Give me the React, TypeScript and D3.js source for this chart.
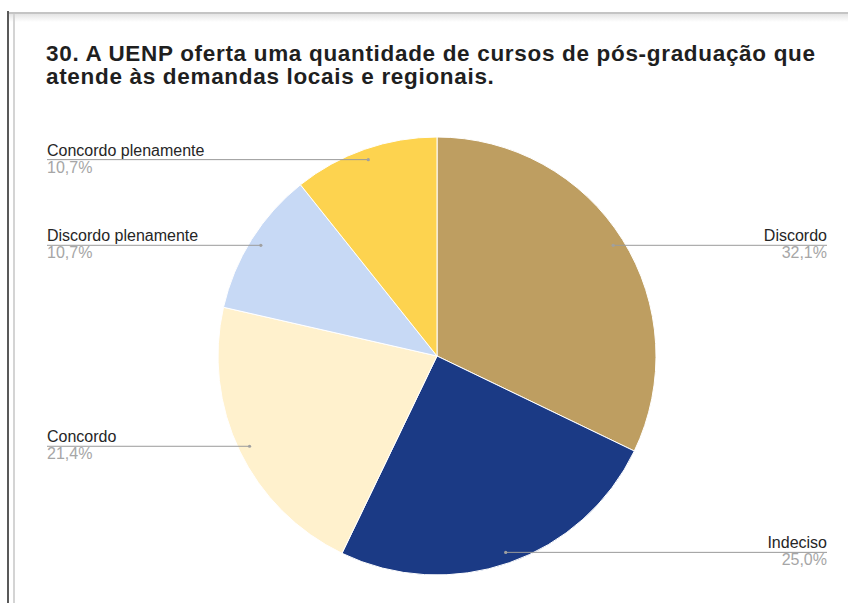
import React, { useEffect, useRef } from 'react';
import * as d3 from 'd3';

// respostas (28 no total)
const categories = ['Discordo', 'Indeciso', 'Concordo', 'Discordo plenamente', 'Concordo plenamente'];
const counts = [9, 7, 6, 3, 3];
const percentLabels = ['32,1%', '25,0%', '21,4%', '10,7%', '10,7%'];
const colors = ['#BE9E61', '#1B3A85', '#FFF1CD', '#C7D9F5', '#FDD34F'];
const titleLines = [
  '30. A UENP oferta uma quantidade de cursos de pós-graduação que',
  'atende às demandas locais e regionais.'
];

const W = 848;
const H = 603;

export default function App() {
  const svgRef = useRef<SVGSVGElement>(null);

  useEffect(() => {
    if (!svgRef.current) return;
    const svg = d3.select(svgRef.current);
    svg.selectAll('*').remove();

    // frame
    const defs = svg.append('defs');
    const grad = defs.append('linearGradient').attr('id', 'shadow')
      .attr('x1', 0).attr('y1', 0).attr('x2', 0).attr('y2', 1);
    grad.append('stop').attr('offset', '0%').attr('stop-color', '#e4e4e4');
    grad.append('stop').attr('offset', '100%').attr('stop-color', '#ffffff');

    svg.append('rect').attr('x', 9).attr('y', 14).attr('width', W - 9).attr('height', 8)
      .attr('fill', 'url(#shadow)');
    svg.append('line').attr('x1', 9).attr('x2', W).attr('y1', 13).attr('y2', 13)
      .attr('stroke', '#c4c4c4').attr('stroke-width', 2);
    svg.append('line').attr('x1', 8).attr('x2', 8).attr('y1', 11).attr('y2', H)
      .attr('stroke', '#222').attr('stroke-width', 1.5);
    svg.append('line').attr('x1', 14).attr('x2', 14).attr('y1', 14).attr('y2', H)
      .attr('stroke', '#d4d4d4').attr('stroke-width', 2);

    // title
    svg.append('g').selectAll('text')
      .data(titleLines)
      .enter()
      .append('text')
      .attr('x', 46)
      .attr('y', (d, i) => 61 + i * 23)
      .style('font-family', 'Arial, "Liberation Sans", sans-serif')
      .style('font-size', '22.5px')
      .style('font-weight', 'bold')
      .style('letter-spacing', '0.68px')
      .style('fill', '#1f1f1f')
      .text(d => d);

    // pie
    const cx = 437;
    const cy = 356;
    const r = 219;
    const pie = d3.pie<number>().sort(null).value(d => d);
    const arcs = pie(counts);
    const arc = d3.arc<d3.PieArcDatum<number>>().innerRadius(0).outerRadius(r);

    const g = svg.append('g').attr('transform', `translate(${cx},${cy})`);
    g.selectAll('path')
      .data(arcs)
      .enter()
      .append('path')
      .attr('d', arc)
      .attr('fill', (d, i) => colors[i])
      .attr('stroke', '#ffffff')
      .attr('stroke-width', 1);

    // labels with leader lines
    const anchorR = r * 0.95;
    const leftX = 47;
    const rightX = 827;
    arcs.forEach((a, i) => {
      const mid = (a.startAngle + a.endAngle) / 2;
      const ax = cx + anchorR * Math.sin(mid);
      const ay = cy - anchorR * Math.cos(mid);
      const right = ax > cx;
      const tx = right ? rightX : leftX;
      svg.append('line')
        .attr('x1', ax).attr('x2', tx).attr('y1', ay).attr('y2', ay)
        .attr('stroke', '#9a9a9a').attr('stroke-width', 1);
      svg.append('circle').attr('cx', ax).attr('cy', ay).attr('r', 1.6)
        .attr('fill', '#a0a0a0');
      svg.append('text')
        .attr('x', tx).attr('y', ay - 4)
        .attr('text-anchor', right ? 'end' : 'start')
        .style('font-family', 'Arial, "Liberation Sans", sans-serif')
        .style('font-size', '16px')
        .style('fill', '#262626')
        .text(categories[i]);
      svg.append('text')
        .attr('x', tx).attr('y', ay + 13)
        .attr('text-anchor', right ? 'end' : 'start')
        .style('font-family', 'Arial, "Liberation Sans", sans-serif')
        .style('font-size', '16px')
        .style('fill', '#a6a6a6')
        .text(percentLabels[i]);
    });
  }, []);

  return (
    <div style={{ position: 'absolute', left: 0, top: 0, width: W, height: H, background: '#fff' }}>
      <svg ref={svgRef} width={W} height={H} role="img" aria-label="Gráfico de pizza" />
    </div>
  );
}
